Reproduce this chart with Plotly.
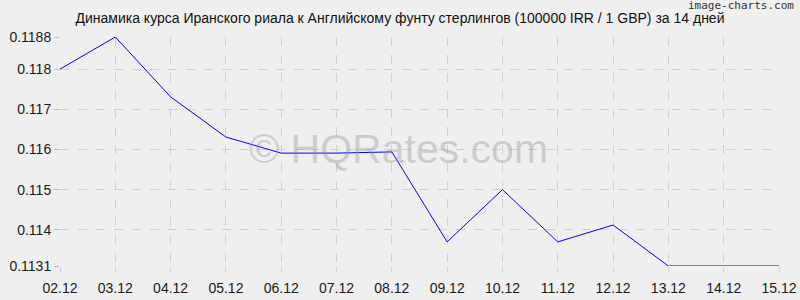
import plotly.graph_objects as go

dates = ["02.12", "03.12", "04.12", "05.12", "06.12", "07.12", "08.12",
         "09.12", "10.12", "11.12", "12.12", "13.12", "14.12", "15.12"]
rates = [0.1180, 0.1188, 0.11731, 0.11631, 0.11591, 0.11591, 0.11594,
         0.11370, 0.11500, 0.11370, 0.11412, 0.11310, 0.11310, 0.11310]
y_ticks = [0.1131, 0.114, 0.115, 0.116, 0.117, 0.118, 0.1188]
y_ticktext = ["0.1131", "0.114", "0.115", "0.116", "0.117", "0.118", "0.1188"]
title = "Динамика курса Иранского риала к Английскому фунту стерлингов (100000 IRR / 1 GBP) за 14 дней"

idx = list(range(len(dates)))
fig = go.Figure()
fig.add_trace(go.Scatter(x=idx, y=rates, mode="lines",
                         line=dict(color="#0000ff", width=1),
                         cliponaxis=False, hoverinfo="skip"))

bg = "#efefef"
grid = "#d0d0d0"
font = dict(family="Liberation Sans, Arial, sans-serif", size=14, color="#1a1a1a")
fig.update_layout(
    width=800, height=300,
    margin=dict(l=60, r=21, t=37, b=34, autoexpand=False),
    paper_bgcolor=bg, plot_bgcolor=bg,
    showlegend=False,
    font=font,
    title=dict(text=title, x=0.5, xanchor="center", y=0.94, yanchor="middle",
               font=dict(family="Liberation Sans, Arial, sans-serif", size=14, color="#111111")),
    xaxis=dict(range=[0, len(dates) - 1], tickvals=idx, ticktext=dates,
               showgrid=True, gridcolor=grid, griddash="dash", gridwidth=1,
               zeroline=False, showline=False, ticks="outside", ticklen=5,
               tickcolor=grid, ticklabelstandoff=4, automargin=False, fixedrange=True),
    yaxis=dict(range=[y_ticks[0], y_ticks[-1]], tickvals=y_ticks, ticktext=y_ticktext,
               ticksuffix="\u2002",
               showgrid=True, gridcolor=grid, griddash="dash", gridwidth=1,
               zeroline=False, showline=False, ticks="outside", ticklen=5,
               tickcolor="#bbbbbb", automargin=False, fixedrange=True),
)
fig.add_annotation(text="© HQRates.com", xref="paper", yref="paper", x=0.471, y=0.51,
                   showarrow=False, font=dict(family="Liberation Sans, Arial, sans-serif",
                                              size=41, color="rgba(140,140,140,0.36)"))
fig.add_annotation(text="image-charts.com", xref="paper", yref="paper", x=1.0, y=1.0,
                   xshift=17, yshift=23, xanchor="right", yanchor="bottom", showarrow=False,
                   font=dict(family="DejaVu Sans Mono, monospace", size=11, color="#333333"))
fig.write_html("out.html", config={"displayModeBar": False})
